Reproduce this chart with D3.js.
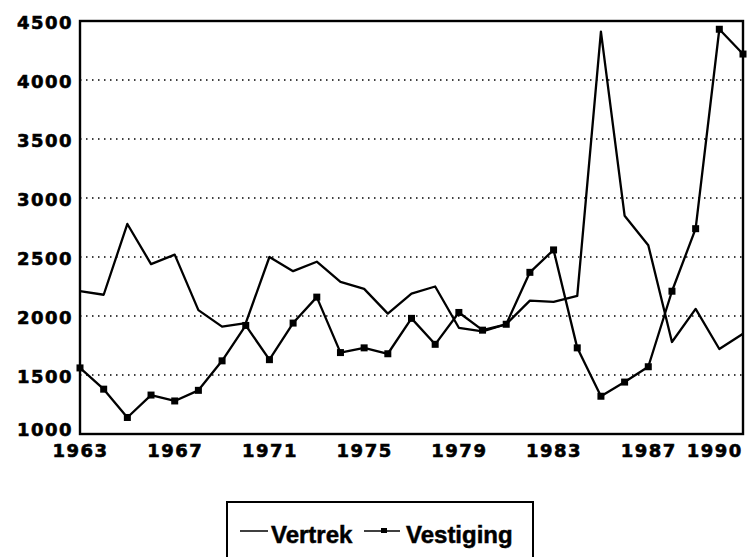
<!DOCTYPE html>
<html>
<head>
<meta charset="utf-8">
<script src="https://cdn.jsdelivr.net/npm/d3@7"></script>
<style>
  body { margin: 0; background: #fff; }
  .tick text { font-family: "DejaVu Sans", sans-serif; font-weight: bold; font-size: 18px; letter-spacing: 1.5px; fill: #000; stroke: #000; stroke-width: 0.6px; }
  .legend text { font-family: "Liberation Sans", Arial, sans-serif; font-weight: bold; font-size: 24px; stroke: #000; stroke-width: 0.5px; }
</style>
</head>
<body>
<script>
// jaren en waarden
var years = d3.range(1963, 1992);
var vertrek = [2210, 2180, 2780, 2440, 2520, 2050, 1910, 1940, 2500, 2380,
               2460, 2290, 2230, 2020, 2190, 2250, 1900, 1870, 1930, 2130,
               2120, 2170, 4410, 2850, 2600, 1780, 2060, 1720, 1850];
var vestiging = [1560, 1380, 1140, 1330, 1280, 1370, 1620, 1920, 1630, 1940,
                 2160, 1690, 1730, 1680, 1980, 1760, 2030, 1880, 1930, 2370,
                 2560, 1730, 1320, 1440, 1570, 2210, 2740, 4430, 4220];
var xTicks = [1963, 1967, 1971, 1975, 1979, 1983, 1987, 1990];
var yTicks = [1000, 1500, 2000, 2500, 3000, 3500, 4000, 4500];

var width = 747, height = 557;
var margin = {top: 21, right: 4, bottom: 123, left: 80};

var svg = d3.select("body").append("svg")
    .attr("width", width)
    .attr("height", height);

var x = d3.scaleLinear()
    .domain([1963, 1991])
    .range([margin.left, width - margin.right]);

var y = d3.scaleLinear()
    .domain([1000, 4500])
    .range([height - margin.bottom, margin.top]);

// gridlijnen
svg.append("g")
    .selectAll("line")
    .data(yTicks.slice(1, -1))
    .enter().append("line")
    .attr("x1", x(1963))
    .attr("x2", x(1991))
    .attr("y1", function(d){ return y(d); })
    .attr("y2", function(d){ return y(d); })
    .attr("stroke", "#000")
    .attr("stroke-width", 1.5)
    .attr("stroke-dasharray", "1.5,4.5");

// y-as
svg.append("g")
    .attr("transform", "translate(" + margin.left + ",0)")
    .call(d3.axisLeft(y).tickValues(yTicks).tickSize(0).tickPadding(7).tickFormat(d3.format("d")))
    .call(function(g){ g.select(".domain").remove(); })
    .selectAll("text")
    .attr("dy", function(d){ return d == 1000 ? "0.1em" : "0.42em"; });

// x-as
var xAxis = svg.append("g")
    .attr("transform", "translate(0," + y(1000) + ")")
    .call(d3.axisBottom(x).tickValues(xTicks).tickSize(0).tickPadding(10).tickFormat(d3.format("d")));
xAxis.select(".domain").remove();
xAxis.selectAll(".tick text")
    .attr("dx", function(d){ return d == 1990 ? -5 : 0; });

// kader
svg.append("rect")
    .attr("x", x(1963))
    .attr("y", y(4500))
    .attr("width", x(1991) - x(1963))
    .attr("height", y(1000) - y(4500))
    .attr("fill", "none")
    .attr("stroke", "#000")
    .attr("stroke-width", 2.4);

var line = d3.line()
    .x(function(d, i){ return x(years[i]); })
    .y(function(d){ return y(d); });

svg.append("path")
    .datum(vertrek)
    .attr("fill", "none")
    .attr("stroke", "#000")
    .attr("stroke-width", 2.3)
    .attr("stroke-linejoin", "round")
    .attr("d", line);

svg.append("path")
    .datum(vestiging)
    .attr("fill", "none")
    .attr("stroke", "#000")
    .attr("stroke-width", 2.3)
    .attr("stroke-linejoin", "round")
    .attr("d", line);

svg.selectAll("rect.mark")
    .data(vestiging).enter()
    .append("rect")
    .attr("class", "mark")
    .attr("x", function(d, i){ return x(years[i]) - 3.5; })
    .attr("y", function(d){ return y(d) - 3.5; })
    .attr("width", 7)
    .attr("height", 7)
    .attr("fill", "#000");

// legenda
var legend = svg.append("g").attr("class", "legend");

legend.append("rect")
    .attr("x", 227)
    .attr("y", 502)
    .attr("width", 306)
    .attr("height", 80)
    .attr("fill", "none")
    .attr("stroke", "#000")
    .attr("stroke-width", 2);

legend.append("line")
    .attr("x1", 240).attr("x2", 268)
    .attr("y1", 531).attr("y2", 531)
    .attr("stroke", "#000").attr("stroke-width", 1.5);
legend.append("text")
    .attr("x", 271).attr("y", 543)
    .text("Vertrek");

legend.append("line")
    .attr("x1", 364).attr("x2", 400)
    .attr("y1", 531).attr("y2", 531)
    .attr("stroke", "#000").attr("stroke-width", 1.5);
legend.append("rect")
    .attr("x", 381).attr("y", 528)
    .attr("width", 6).attr("height", 5)
    .attr("fill", "#000");
legend.append("text")
    .attr("x", 406).attr("y", 543)
    .text("Vestiging");
</script>
</body>
</html>
